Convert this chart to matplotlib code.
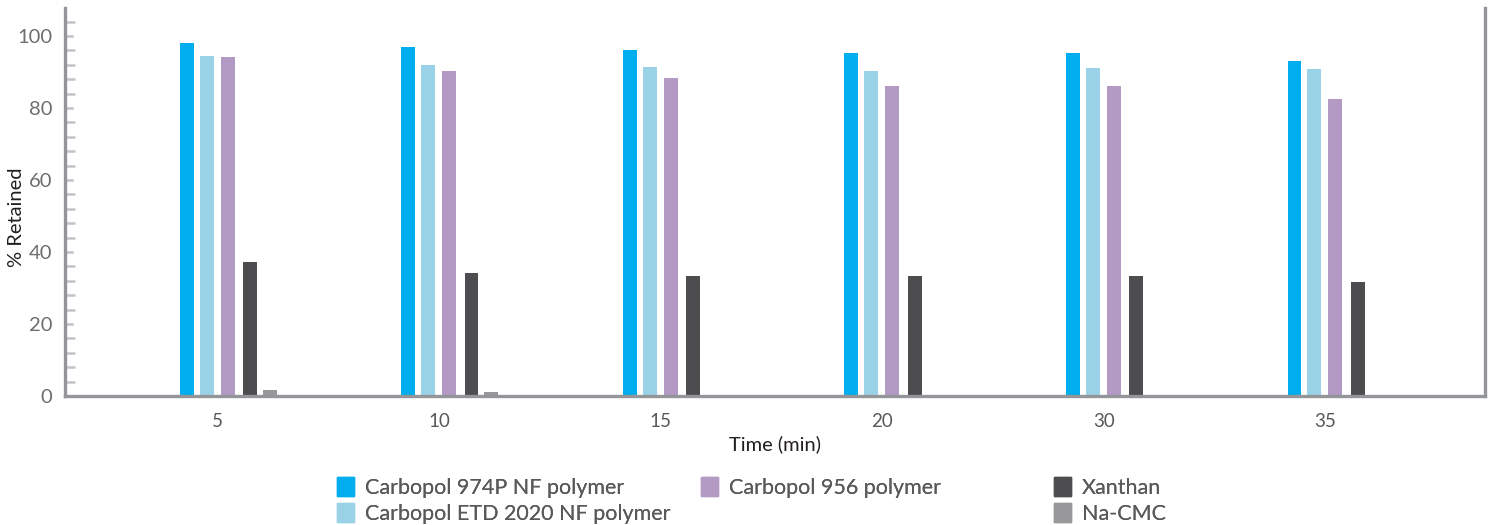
import matplotlib.pyplot as plt
import numpy as np
from matplotlib.patches import Patch
from matplotlib.ticker import MultipleLocator

plt.rcParams["font.family"] = ["Lato", "DejaVu Sans"]

times = ["5", "10", "15", "20", "30", "35"]
series_names = [
    "Carbopol 974P NF polymer",
    "Carbopol ETD 2020 NF polymer",
    "Carbopol 956 polymer",
    "Xanthan",
    "Na-CMC",
]
c974p = [98.0, 97.1, 96.1, 95.3, 95.3, 93.1]
etd2020 = [94.6, 92.1, 91.4, 90.3, 91.1, 90.8]
c956 = [94.1, 90.2, 88.3, 86.1, 86.1, 82.5]
xanthan = [37.3, 34.2, 33.4, 33.4, 33.4, 31.7]
na_cmc = [1.7, 1.0, 0, 0, 0, 0]

colors = ["#00aeef", "#9ad3e8", "#b39ac5", "#4d4d4f", "#98989b"]
offsets = [-0.14, -0.05, 0.045, 0.145, 0.235]
bar_w = 0.063

fig = plt.figure(figsize=(14.92, 5.25), dpi=100)
ax = fig.add_axes([65 / 1492, 1 - 396 / 525, (1485 - 65) / 1492, 388 / 525])

x = np.arange(len(times))
all_series = [c974p, etd2020, c956, xanthan, na_cmc]
for vals, off, col in zip(all_series, offsets, colors):
    ax.bar(x + off, vals, width=bar_w, color=col, zorder=2)

ax.set_xlim(-0.69, 5.72)
ax.set_ylim(0, 107.8)
ax.set_xticks(x)
ax.set_xticklabels(times)
ax.set_yticks([0, 20, 40, 60, 80, 100])
ax.yaxis.set_minor_locator(MultipleLocator(4))

spine_col = "#939598"
for side in ["left", "bottom", "right"]:
    ax.spines[side].set_color(spine_col)
    ax.spines[side].set_linewidth(2.4)
ax.spines["top"].set_visible(False)

ax.tick_params(axis="x", length=0, pad=12, labelsize=13.5, labelcolor="#58595b")
ax.tick_params(axis="y", which="major", length=0, pad=9, labelsize=14.5,
               labelcolor="#6d6e71")
ax.tick_params(axis="y", which="minor", direction="in", length=7, width=1.8,
               color="#c3c4c6")
# major positions also carry the same small inward tick
for yv in [0, 20, 40, 60, 80, 100]:
    ax.plot([-0.69, -0.69 + 7 / 221], [yv, yv], color="#c3c4c6", lw=1.8,
            clip_on=False, zorder=1)

ax.set_xlabel("Time (min)", fontsize=14.5, color="#231f20", labelpad=4)
ax.set_ylabel("% Retained", fontsize=14.5, color="#231f20")
ax.yaxis.set_label_coords(-40 / 1420, 0.46)

handles = [Patch(color=c) for c in colors]
legend_kw = dict(frameon=False, fontsize=15.5, handlelength=0.8,
                 handleheight=1.0, handletextpad=0.5, labelspacing=0.25,
                 borderaxespad=0, labelcolor="#58595b")
groups = [([0, 1], 328), ([2], 692), ([3, 4], 1045)]
for idx, xp in groups:
    leg = fig.legend([handles[i] for i in idx], [series_names[i] for i in idx],
                     loc="upper left", bbox_to_anchor=(xp / 1492, 1 - 468 / 525),
                     **legend_kw)
    fig.add_artist(leg)

fig.savefig("out.png", dpi=100)
